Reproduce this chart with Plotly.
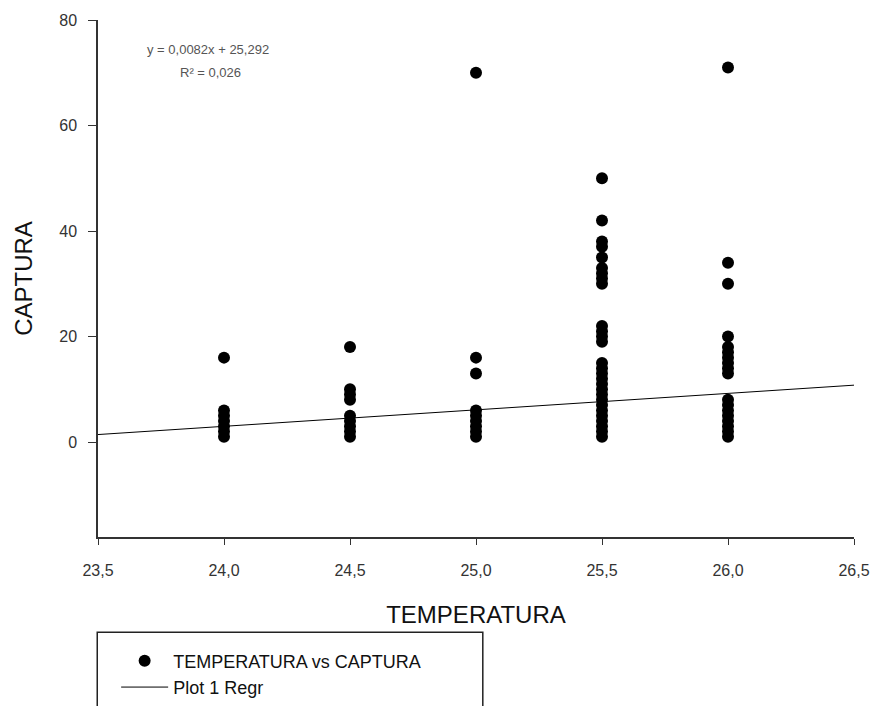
import plotly.graph_objects as go

# ---- data ----
temp_24_0 = [16, 6, 5, 4, 3, 2, 1]
temp_24_5 = [18, 10, 9, 8, 5, 4, 3, 2, 1]
temp_25_0 = [70, 16, 13, 6, 5, 4, 3, 2, 1]
temp_25_5 = [50, 42, 38, 37, 35, 33, 32, 31, 30, 22, 21, 20, 19, 15, 14, 13,
             12, 11, 10, 9, 8, 7, 6, 5, 4, 3, 2, 1]
temp_26_0 = [71, 34, 30, 20, 18, 17, 16, 15, 14, 13, 8, 7, 6, 5, 4, 3, 2, 1]
temperatures = [24.0, 24.5, 25.0, 25.5, 26.0]
captura_groups = [temp_24_0, temp_24_5, temp_25_0, temp_25_5, temp_26_0]

regr_slope = 3.12
regr_intercept = -71.9
regr_x = [23.5, 26.5]

x_ticks = [23.5, 24.0, 24.5, 25.0, 25.5, 26.0, 26.5]
x_tick_labels = ["23,5", "24,0", "24,5", "25,0", "25,5", "26,0", "26,5"]
y_ticks = [0, 20, 40, 60, 80]

eq_line1 = "y = 0,0082x + 25,292"
eq_line2 = "R² = 0,026"

xs, ys = [], []
for t, grp in zip(temperatures, captura_groups):
    for v in grp:
        xs.append(t)
        ys.append(v)

font = "Liberation Sans, Arial, sans-serif"

fig = go.Figure()
fig.add_trace(go.Scatter(
    x=xs, y=ys, mode="markers", name="TEMPERATURA vs CAPTURA",
    marker=dict(color="black", size=12, line=dict(width=0)),
))
fig.add_trace(go.Scatter(
    x=regr_x, y=[regr_intercept + regr_slope * x for x in regr_x],
    mode="lines", name="Plot 1 Regr",
    line=dict(color="black", width=1),
))

fig.update_layout(
    width=882, height=706,
    margin=dict(l=90, r=36, t=12, b=177, autoexpand=False),
    paper_bgcolor="white", plot_bgcolor="white",
    font=dict(family=font, color="#222", size=15),
    showlegend=True,
    legend=dict(
        x=0.024, y=-0.204, xanchor="left", yanchor="top",
        xref="paper", yref="paper",
        font=dict(size=18, color="#111"),
        bgcolor="rgba(0,0,0,0)", borderwidth=0,
        itemwidth=47, tracegroupgap=0,
    ),
    xaxis=dict(
        range=[23.5, 26.5], tickvals=x_ticks, ticktext=x_tick_labels,
        showgrid=False, zeroline=False, showline=True, linecolor="#333",
        linewidth=1.5, ticks="outside", ticklen=6, tickcolor="#333",
        ticklabelstandoff=12,
        title=dict(text="TEMPERATURA", font=dict(size=24, color="#111"), standoff=28),
        tickfont=dict(size=16, color="#333"),
    ),
    yaxis=dict(
        range=[-18, 80], tickvals=y_ticks,
        showgrid=False, zeroline=False, showline=True, linecolor="#333",
        linewidth=1.5, ticks="outside", ticklen=8, tickcolor="#333",
        ticklabelstandoff=8,
        title=dict(text="CAPTURA", font=dict(size=24, color="#111"), standoff=20),
        tickfont=dict(size=16, color="#333"),
    ),
    shapes=[dict(
        type="rect", xref="paper", yref="paper",
        x0=-0.001, x1=0.509, y0=-0.40, y1=-0.184,
        line=dict(color="#222", width=1.5),
    )],
    annotations=[
        dict(text=eq_line1, xref="paper", yref="paper",
             x=0.145, y=0.942, xanchor="center", yanchor="middle",
             showarrow=False, font=dict(size=13, color="#555")),
        dict(text=eq_line2, xref="paper", yref="paper",
             x=0.149, y=0.899, xanchor="center", yanchor="middle",
             showarrow=False, font=dict(size=13, color="#555")),
    ],
)

fig.write_html("out.html")
